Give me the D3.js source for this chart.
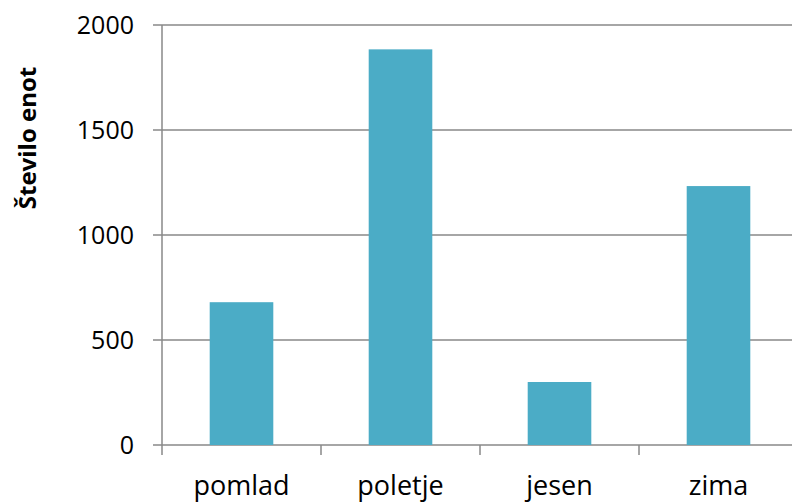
<!DOCTYPE html>
<html>
<head>
<meta charset="utf-8">
<script src="https://cdn.jsdelivr.net/npm/d3@7"></script>
<style>
  body { margin: 0; background: #fff; }
  svg text { font-family: "Open Sans", "Liberation Sans", sans-serif; fill: #000; }
</style>
</head>
<body>
<div class="chartDiv"></div>
<script>
"use strict";

// data
var categories = ["pomlad", "poletje", "jesen", "zima"];
var values = [680, 1884, 300, 1233];
var yTicks = [0, 500, 1000, 1500, 2000];
var yTitle = "Število enot";

var width = 792, height = 502;

var svg = d3.select(".chartDiv").append("svg")
    .attr("width", width)
    .attr("height", height);

// x: one band per season, no padding (ticks sit on band edges)
var x = d3.scaleBand()
    .domain(categories)
    .range([162, 798])
    .padding(0);

var y = d3.scaleLinear()
    .domain([0, 2000])
    .range([445, 25]);

// horizontal gridlines
svg.append("g")
  .selectAll("line")
  .data(yTicks)
  .enter().append("line")
    .attr("x1", 153)
    .attr("x2", 798)
    .attr("y1", function(d) { return y(d); })
    .attr("y2", function(d) { return y(d); })
    .style("stroke", "#898989")
    .style("stroke-width", 1.5);

// bars, 40% of the band, centred
var barW = x.bandwidth() * 0.4;
svg.append("g")
  .selectAll("rect")
  .data(values)
  .enter().append("rect")
    .attr("x", function(d, i) { return x(categories[i]) + (x.bandwidth() - barW) / 2; })
    .attr("y", function(d) { return y(d); })
    .attr("width", barW)
    .attr("height", function(d) { return y(0) - y(d); })
    .style("fill", "#4BACC6");

// y axis line
svg.append("line")
    .attr("x1", 162).attr("x2", 162)
    .attr("y1", y(2000)).attr("y2", y(0))
    .style("stroke", "#898989")
    .style("stroke-width", 1.5);

// x axis ticks at band edges
var edges = categories.map(function(c) { return x(c); }).concat([x.range()[1]]);
svg.append("g")
  .selectAll("line")
  .data(edges)
  .enter().append("line")
    .attr("x1", function(d) { return d; })
    .attr("x2", function(d) { return d; })
    .attr("y1", y(0))
    .attr("y2", y(0) + 10)
    .style("stroke", "#898989")
    .style("stroke-width", 1.5);

// y tick labels
svg.append("g")
  .selectAll("text")
  .data(yTicks)
  .enter().append("text")
    .attr("x", 134)
    .attr("y", function(d) { return y(d); })
    .attr("dy", "0.35em")
    .attr("text-anchor", "end")
    .style("font-size", "25px")
    .text(function(d) { return d; });

// category labels
svg.append("g")
  .selectAll("text")
  .data(categories)
  .enter().append("text")
    .attr("x", function(d) { return x(d) + x.bandwidth() / 2; })
    .attr("y", 495)
    .attr("text-anchor", "middle")
    .style("font-size", "27px")
    .text(function(d) { return d; });

// y title
svg.append("text")
    .attr("transform", "translate(36,138) rotate(-90)")
    .attr("text-anchor", "middle")
    .style("font-size", "24px")
    .style("font-weight", "bold")
    .text(yTitle);
</script>
</body>
</html>
